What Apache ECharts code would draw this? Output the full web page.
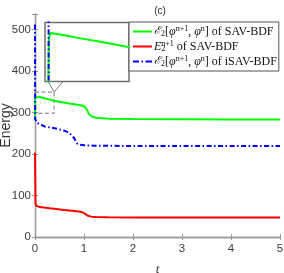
<!DOCTYPE html>
<html><head><meta charset="utf-8">
<script src="https://cdn.jsdelivr.net/npm/echarts@6/dist/echarts.min.js"></script>
<style>html,body{margin:0;padding:0;background:#fff}#c{width:284px;height:273px}</style>
</head><body><div id="c"></div>
<script>
// ---- data ----
const xTicks = [0, 1, 2, 3, 4, 5];
const yTicks = [0, 100, 200, 300, 400, 500];
const tGreen = [0, 0.004, 0.012, 0.04, 0.086, 0.15, 0.245, 0.38, 0.5, 0.7, 0.9, 0.98, 1.03, 1.07, 1.1, 1.15, 1.25, 1.5, 2, 3, 4, 5];
const vGreen = [285, 336, 340, 339, 337.8, 335.5, 332.6, 328, 325.5, 321.5, 318, 316, 312, 304, 296, 290.5, 287, 285, 284, 283.5, 283, 283];
const tRed = [0, 0.01, 0.03, 0.1, 0.3, 0.6, 0.9, 0.98, 1.03, 1.08, 1.15, 1.25, 1.5, 2, 3, 5];
const vRed = [203, 80, 75, 72, 69, 65, 61.5, 59, 55, 51, 49, 48, 47.5, 47, 47, 47];
const tBlue = [0, 0.003, 0.03, 0.1, 0.2, 0.4, 0.57, 0.66, 0.74, 0.8, 0.84, 0.87, 0.92, 1.0, 1.2, 2, 3, 5];
const vBlue = [512, 285, 276, 271, 266, 262, 257, 253, 246, 238, 229, 224, 222, 221, 220, 219, 219, 219];
const zoomX = [-0.015, 0.39];
const zoomY = [298, 349];
const names = ['green', 'red', 'blue'];
// ---------------

const zip = (t, v) => t.map((x, i) => [x, v[i]]);
const chart = echarts.init(document.getElementById('c'), null, {renderer: 'canvas'});
const axisCol = '#9a9a9a';
const lblCol = '#3c3c3c';
const sans = 'Liberation Sans, Arial, sans-serif';
const serif = 'Liberation Serif, Times New Roman, serif';

const lineStyles = {
  green: {color: '#00ff00', width: 2},
  red: {color: '#ff0000', width: 2},
  blue: {color: '#0000ff', width: 2, type: [5, 2.5, 1.5, 2.5]}
};
const datas = {green: zip(tGreen, vGreen), red: zip(tRed, vRed), blue: zip(tBlue, vBlue)};

const series = [];
names.forEach(n => {
  const s = {
    name: n, type: 'line', xAxisIndex: 0, yAxisIndex: 0, data: datas[n],
    symbol: 'none', smooth: false, lineStyle: lineStyles[n], itemStyle: {color: lineStyles[n].color},
    z: n === 'blue' ? 4 : 3, animation: false
  };
  if (n === 'red') {
    s.markArea = {
      silent: true,
      itemStyle: {color: 'rgba(0,0,0,0)', borderColor: '#777', borderWidth: 1, borderType: [4, 2.5]},
      data: [[{coord: [0, zoomY[1]]}, {coord: [zoomX[1], zoomY[0]]}]]
    };
  }
  series.push(s);
});
names.forEach(n => {
  series.push({
    name: n, type: 'line', xAxisIndex: 2, yAxisIndex: 2, data: datas[n],
    symbol: 'none', lineStyle: lineStyles[n], itemStyle: {color: lineStyles[n].color},
    clip: true, z: n === 'blue' ? 6 : 5, animation: false
  });
});

const legendText = {
  green: '{cal|ℰ}{sub|2}{n|[}{it|φ}{sup|n+1}{n|, }{it|φ}{sup|n}{n|] of SAV-BDF}',
  red: '{it|E}{sub0|2}{sup|n+1}{n| of SAV-BDF}',
  blue: '{cal|ℰ}{sub|2}{n|[}{it|φ}{sup|n+1}{n|, }{it|φ}{sup|n}{n|] of iSAV-BDF}'
};
const dashIcon = 'path://M0,0h6v2h-6z M8.5,0h1.5v2h-1.5z M12.5,0h6.5v2h-6.5z';

chart.setOption({
  animation: false,
  backgroundColor: '#fff',
  title: {text: '(c)', left: 155, top: 1, textAlign: 'center',
    textStyle: {fontFamily: sans, fontSize: 10, fontWeight: 'normal', color: '#333'}},
  grid: [
    {left: 35, top: 14, right: 4, bottom: 36, outerBoundsMode: 'none', containLabel: false},
    {left: 45, top: 22.5, width: 84, height: 59, show: true, backgroundColor: '#fff', borderColor: '#707070', borderWidth: 1.5, z: 3, outerBoundsMode: 'none', containLabel: false}
  ],
  xAxis: [
    {type: 'value', gridIndex: 0, min: 0, max: 5, interval: 1,
      name: 't', nameLocation: 'middle', nameGap: 26, nameMoveOverlap: false,
      nameTextStyle: {fontFamily: serif, fontStyle: 'italic', fontSize: 13, color: '#333'},
      axisLine: {lineStyle: {color: axisCol, width: 1.3}},
      axisTick: {inside: true, length: 3, lineStyle: {color: axisCol}},
      axisLabel: {fontFamily: sans, fontSize: 11.5, color: lblCol, margin: 6},
      splitLine: {show: false}},
    {type: 'value', gridIndex: 0, position: 'top', min: 0, max: 5, interval: 1,
      axisLine: {lineStyle: {color: axisCol, width: 1.3}},
      axisTick: {inside: true, length: 3, lineStyle: {color: axisCol}},
      axisLabel: {show: false}, splitLine: {show: false}},
    {type: 'value', gridIndex: 1, min: zoomX[0], max: zoomX[1], show: false, splitLine: {show: false}}
  ],
  yAxis: [
    {type: 'value', gridIndex: 0, min: 0, max: 537, interval: 100,
      name: 'Energy', nameLocation: 'middle', nameGap: 22, nameRotate: 90, nameMoveOverlap: false,
      nameTextStyle: {fontFamily: sans, fontSize: 14, color: '#333'},
      axisLine: {lineStyle: {color: axisCol, width: 1.3}},
      axisTick: {inside: true, length: 3, lineStyle: {color: axisCol}},
      axisLabel: {fontFamily: sans, fontSize: 11.5, color: lblCol, margin: 4,
        formatter: v => yTicks.includes(v) ? String(v) : ''},
      splitLine: {show: false}},
    {type: 'value', gridIndex: 0, position: 'right', min: 0, max: 537, interval: 100,
      axisLine: {lineStyle: {color: axisCol, width: 1.3}},
      axisTick: {inside: true, length: 3, lineStyle: {color: axisCol}},
      axisLabel: {show: false}, splitLine: {show: false}},
    {type: 'value', gridIndex: 1, min: zoomY[0], max: zoomY[1], show: false, splitLine: {show: false}}
  ],
  legend: {
    data: [{name: 'green', icon: 'rect'}, {name: 'red', icon: 'rect'}, {name: 'blue', icon: dashIcon}],
    orient: 'vertical', left: 129, top: 22,
    itemWidth: 19, itemHeight: 2, itemGap: 2,
    padding: [3, 2, 3, 4], borderColor: '#555', borderWidth: 1, backgroundColor: '#fff',
    selectedMode: false,
    formatter: n => legendText[n],
    textStyle: {
      fontFamily: serif, fontSize: 12, color: '#111', padding: [0, 0, 0, -3], lineHeight: 13,
      rich: {
        n: {fontFamily: serif, fontSize: 12, color: '#111', lineHeight: 13},
        cal: {fontFamily: 'DejaVu Serif, serif', fontStyle: 'italic', fontSize: 11, color: '#111', lineHeight: 13},
        it: {fontFamily: serif, fontStyle: 'italic', fontSize: 12, color: '#111', lineHeight: 13},
        sub: {fontFamily: serif, fontSize: 8, color: '#111', lineHeight: 8, padding: [5, 0, 0, 0]},
        sub0: {fontFamily: serif, fontSize: 8, color: '#111', lineHeight: 8, padding: [5, 0, 0, 0], width: 0},
        sup: {fontFamily: serif, fontSize: 8, color: '#111', lineHeight: 8, padding: [0, 0, 5, 0]}
      }
    }
  },
  series: series
});

// zoom connector lines (annotation)
const apex = chart.convertToPixel({gridIndex: 0}, [zoomX[1], zoomY[1]]);
const insetBottomLeft = chart.convertToPixel({gridIndex: 1}, [zoomX[0], zoomY[0]]);
const insetX0 = chart.convertToPixel({gridIndex: 1}, [0, zoomY[0]]);
chart.setOption({
  graphic: [
    {type: 'line', shape: {x1: apex[0], y1: apex[1], x2: insetX0[0], y2: insetBottomLeft[1]},
      style: {stroke: '#777', lineWidth: 1}, z: 10, silent: true},
    {type: 'line', shape: {x1: apex[0], y1: apex[1], x2: insetX0[0] + 15, y2: insetBottomLeft[1]},
      style: {stroke: '#777', lineWidth: 1}, z: 10, silent: true}
  ]
});
</script></body></html>
